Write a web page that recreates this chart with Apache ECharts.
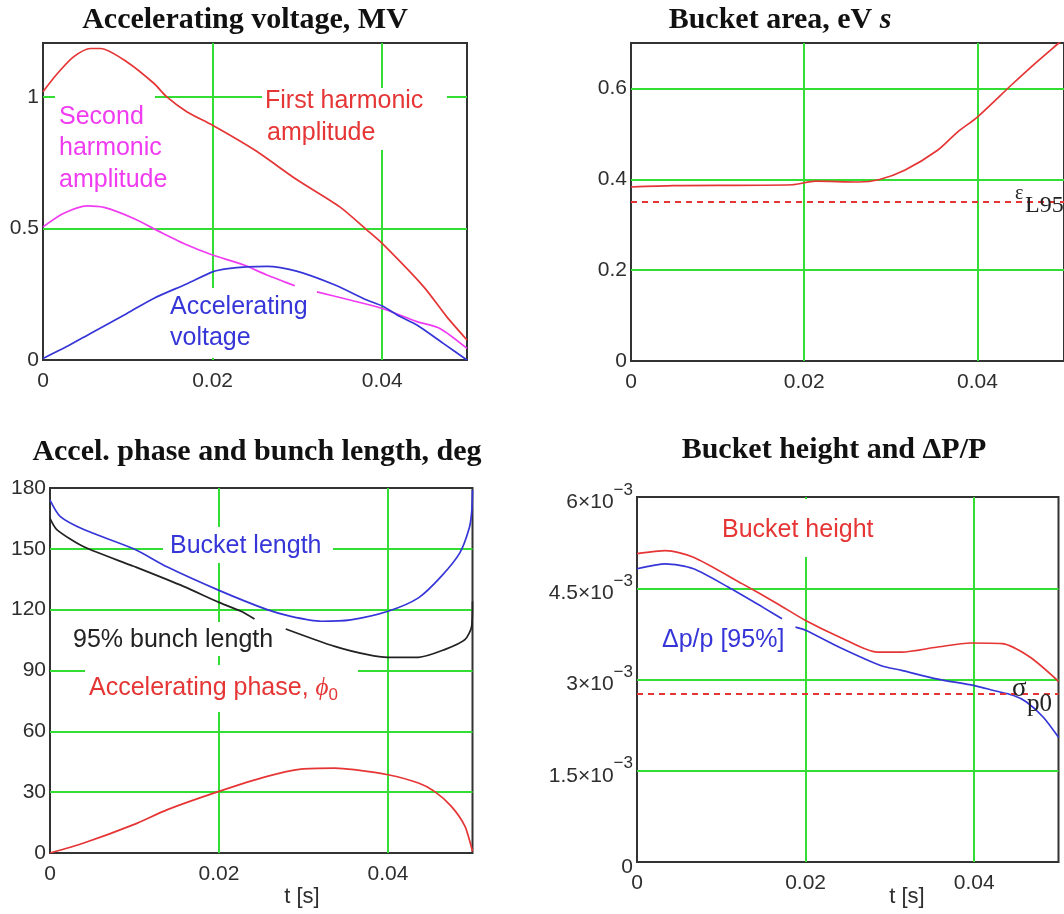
<!DOCTYPE html>
<html>
<head>
<meta charset="utf-8">
<script src="https://cdn.jsdelivr.net/npm/echarts/dist/echarts.min.js"></script>
<style>
html,body{margin:0;padding:0;background:#fff;}
#c{width:1064px;height:914px;}
</style>
</head>
<body>
<div id="c"></div>
<script>
// ---------------- DATA ----------------
// Panel 1: Accelerating voltage, MV
const T1_FIRST = [0, 0.0017, 0.0036, 0.0056, 0.0068, 0.0099, 0.0131, 0.0146, 0.017, 0.02, 0.025, 0.03, 0.035, 0.0382, 0.04, 0.0449, 0.0476, 0.05];
const V1_FIRST = [1.02, 1.089, 1.152, 1.184, 1.184, 1.133, 1.051, 1.0, 0.943, 0.892, 0.797, 0.684, 0.582, 0.494, 0.443, 0.278, 0.165, 0.076];
const T1_SECOND = [0, 0.0024, 0.0052, 0.0072, 0.0107, 0.0138, 0.017, 0.02, 0.0237, 0.0264, 0.0297, 0.031, 0.0323, 0.0362, 0.04, 0.0441, 0.0468, 0.05];
const V1_SECOND = [0.506, 0.557, 0.586, 0.58, 0.538, 0.487, 0.437, 0.399, 0.361, 0.323, 0.282, null, 0.259, 0.228, 0.196, 0.146, 0.12, 0.044];
const T1_ACC = [0, 0.0028, 0.0056, 0.0099, 0.0131, 0.017, 0.02, 0.0218, 0.0240, 0.0264, 0.0299, 0.0343, 0.0382, 0.04, 0.0421, 0.0441, 0.0472, 0.05];
const V1_ACC = [0.006, 0.051, 0.101, 0.177, 0.235, 0.29, 0.335, 0.347, 0.354, 0.356, 0.338, 0.287, 0.228, 0.205, 0.165, 0.133, 0.063, 0.0];

// Panel 2: Bucket area, eV s
const T2_AREA = [0, 0.0049, 0.0186, 0.0213, 0.0263, 0.0286, 0.0316, 0.0354, 0.0377, 0.04, 0.0439, 0.0469, 0.0494, 0.05];
const V2_AREA = [0.383, 0.386, 0.388, 0.396, 0.394, 0.399, 0.42, 0.464, 0.504, 0.537, 0.607, 0.659, 0.70, 0.71];
const EPS_L95 = 0.35;

// Panel 3: Accel. phase and bunch length, deg
const T3_BUCKET = [0, 0.0012, 0.004, 0.0099, 0.0139, 0.02, 0.0257, 0.0285, 0.0321, 0.0356, 0.04, 0.0436, 0.0463, 0.0485, 0.0496, 0.0499, 0.05];
const V3_BUCKET = [174, 166, 159.5, 150, 141, 129.5, 120, 116.7, 114.3, 115, 119.2, 125.8, 136.4, 148, 160, 168, 179];
const T3_BUNCH = [0, 0.0008, 0.004, 0.0099, 0.0158, 0.02, 0.0226, 0.0242, 0.026, 0.0279, 0.0337, 0.0376, 0.04, 0.0436, 0.0467, 0.0491, 0.0499, 0.05];
const V3_BUNCH = [165, 159.5, 151, 141.4, 131.5, 123.6, 119.2, 115.4, null, 110.5, 101.9, 97.8, 96.5, 96.5, 100.3, 105.2, 111.8, 124];
const T3_PHASE = [0, 0.004, 0.0099, 0.0139, 0.02, 0.0257, 0.0297, 0.0337, 0.036, 0.04, 0.0436, 0.0455, 0.0475, 0.0491, 0.05];
const V3_PHASE = [0, 4.9, 14, 21.4, 30.4, 37.8, 41.4, 41.9, 41.1, 38.6, 34.5, 30.4, 23, 13.2, 0.8];

// Panel 4: Bucket height and dP/P
const T4_HEIGHT = [0, 0.0034, 0.0067, 0.0124, 0.0166, 0.02, 0.024, 0.0285, 0.0314, 0.0355, 0.0396, 0.0433, 0.0466, 0.05];
const V4_HEIGHT = [5.07e-3, 5.12e-3, 5.01e-3, 4.58e-3, 4.25e-3, 3.97e-3, 3.70e-3, 3.45e-3, 3.45e-3, 3.53e-3, 3.60e-3, 3.59e-3, 3.37e-3, 2.97e-3];
const T4_DP = [0, 0.0034, 0.0067, 0.0108, 0.0149, 0.0172, 0.018, 0.0188, 0.02, 0.024, 0.0289, 0.0314, 0.0355, 0.04, 0.0423, 0.0446, 0.0462, 0.0482, 0.05];
const V4_DP = [4.82e-3, 4.90e-3, 4.82e-3, 4.52e-3, 4.19e-3, 4.0e-3, null, 3.86e-3, 3.81e-3, 3.53e-3, 3.23e-3, 3.15e-3, 3.01e-3, 2.90e-3, 2.82e-3, 2.74e-3, 2.63e-3, 2.38e-3, 2.05e-3];
const SIGMA_P0 = 2.76e-3;

// Axis ticks
const X_TICKS = [0, 0.02, 0.04];
const X_RANGE = [0, 0.05];
const Y1_TICKS = [0, 0.5, 1];
const Y2_TICKS = [0, 0.2, 0.4, 0.6];
const Y3_TICKS = [0, 30, 60, 90, 120, 150, 180];
const Y4_TICKS = [0, 1.5e-3, 3e-3, 4.5e-3, 6e-3];

// ---------------- STYLE ----------------
const SANS = '"Liberation Sans", Arial, sans-serif';
const SERIF = '"Liberation Serif", "Times New Roman", serif';
const GREEN = '#33dd33';
const RED = '#e53535';
const BLUE = '#3636d8';
const MAGENTA = '#f03cf0';
const BLACK = '#222222';
const LABEL = '#2e2e2e';

const zip = (t, v) => t.map((x, i) => [x, v[i]]);

const grids = [
  {left: 43, top: 43, width: 424, height: 317},
  {left: 631, top: 43, width: 437.5, height: 318},
  {left: 50, top: 488, width: 422.5, height: 365},
  {left: 637, top: 497, width: 421.5, height: 365}
].map(g => Object.assign(g, {show: true, borderColor: '#333', borderWidth: 2, backgroundColor: 'transparent', containLabel: false}));

function fmtTick(list, f) {
  return function (v) {
    for (const t of list) if (Math.abs(v - t) < 1e-9) return f ? f(t) : String(t);
    return '';
  };
}

const xAxes = [0, 1, 2, 3].map(i => ({
  type: 'value', gridIndex: i, min: X_RANGE[0], max: X_RANGE[1], interval: 0.02,
  axisLine: {show: false}, axisTick: {show: false},
  splitLine: {show: true, showMinLine: false, showMaxLine: false, lineStyle: {color: GREEN, width: 2}},
  axisLabel: {show: true, margin: 11, fontSize: 21, fontFamily: SANS, color: LABEL,
    showMaxLabel: false, formatter: fmtTick(X_TICKS)}
}));

function yAxis(i, max, interval, ticks, formatter, extra) {
  return Object.assign({
    type: 'value', gridIndex: i, min: 0, max: max, interval: interval,
    axisLine: {show: false}, axisTick: {show: false},
    splitLine: {show: true, showMinLine: false, showMaxLine: false, lineStyle: {color: GREEN, width: 2}},
    axisLabel: {show: true, margin: 4, fontSize: 21, fontFamily: SANS, color: LABEL,
      formatter: formatter || fmtTick(ticks)}
  }, extra || {});
}

const yAxes = [
  yAxis(0, 1.205, 0.5, Y1_TICKS),
  yAxis(1, 0.7, 0.2, Y2_TICKS),
  yAxis(2, 180, 30, Y3_TICKS),
  yAxis(3, 6e-3, 1.5e-3, Y4_TICKS, function (v) {
    for (const t of Y4_TICKS) {
      if (Math.abs(v - t) < 1e-12) {
        if (t === 0) return '{m|0}';
        const m = Math.round(t * 1e4) / 10;
        return '{m|' + m + '×10}{e|−3}';
      }
    }
    return '';
  })
];
yAxes[3].axisLabel.rich = {
  m: {fontSize: 21, fontFamily: SANS, color: LABEL, verticalAlign: 'bottom', padding: [10, 0, 0, 0]},
  e: {fontSize: 17, fontFamily: SANS, color: LABEL, verticalAlign: 'top'}
};

function line(i, data, color, extra) {
  return Object.assign({
    type: 'line', xAxisIndex: i, yAxisIndex: i, data: data, showSymbol: false,
    smooth: 0.25, connectNulls: false, clip: true, z: 3,
    lineStyle: {color: color, width: 1.7}, itemStyle: {color: color}, silent: true, animation: false
  }, extra || {});
}
const dashed = (i, v, color) => line(i, zip(X_RANGE, [v, v]), color,
  {smooth: false, lineStyle: {color: color, width: 2, type: [6, 5]}});

const series = [
  line(0, zip(T1_FIRST, V1_FIRST), RED),
  line(0, zip(T1_SECOND, V1_SECOND), MAGENTA),
  line(0, zip(T1_ACC, V1_ACC), BLUE),
  line(1, zip(T2_AREA, V2_AREA), RED),
  dashed(1, EPS_L95, RED),
  line(2, zip(T3_BUCKET, V3_BUCKET), BLUE),
  line(2, zip(T3_BUNCH, V3_BUNCH), BLACK),
  line(2, zip(T3_PHASE, V3_PHASE), RED),
  line(3, zip(T4_HEIGHT, V4_HEIGHT), RED),
  line(3, zip(T4_DP, V4_DP), BLUE),
  dashed(3, SIGMA_P0, RED)
];

// ---------------- ANNOTATIONS ----------------
function rect(x, y, w, h) {
  return {type: 'rect', z: 1, silent: true, shape: {x: x, y: y, width: w, height: h}, style: {fill: '#ffffff'}};
}
function txt(x, y, text, size, color, font, align) {
  return {type: 'text', z: 5, silent: true, x: x, y: y,
    style: {text: text, fill: color, font: size + 'px ' + (font || SANS), align: align || 'left', verticalAlign: 'middle'}};
}
function title(x, y, text) {
  return {type: 'text', z: 5, silent: true, x: x, y: y,
    style: {text: text, fill: '#111', font: 'bold 30px ' + SERIF, align: 'center', verticalAlign: 'middle'}};
}

const graphics = [
  // white text boxes breaking the grid lines
  rect(55, 90, 100, 105),
  rect(262, 88, 185, 62),
  rect(165, 288, 147, 70),
  rect(163, 527, 170, 36),
  rect(68, 622, 218, 34),
  rect(85, 665, 273, 47),
  rect(715, 499, 190, 58),

  title(245, 20, 'Accelerating voltage, MV'),
  {type: 'text', z: 5, silent: true, x: 780, y: 20,
    style: {text: '{n|Bucket area, eV }{i|s}', align: 'center', verticalAlign: 'middle',
      rich: {n: {font: 'bold 30px ' + SERIF, fill: '#111'}, i: {font: 'italic bold 30px ' + SERIF, fill: '#111'}}}},
  title(257, 452, 'Accel. phase and bunch length, deg'),
  title(834, 450, 'Bucket height and ΔP/P'),

  txt(265, 101, 'First harmonic', 25, RED),
  txt(267, 133, 'amplitude', 25, RED),
  txt(59, 117, 'Second', 25, MAGENTA),
  txt(59, 148, 'harmonic', 25, MAGENTA),
  txt(59, 180, 'amplitude', 25, MAGENTA),
  txt(170, 307, 'Accelerating', 25, BLUE),
  txt(170, 338, 'voltage', 25, BLUE),

  txt(1015, 194, 'ε', 20, '#222', SERIF),
  txt(1025, 206, 'L95', 24, '#222', SERIF),

  txt(170, 546, 'Bucket length', 25, BLUE),
  txt(73, 640, '95% bunch length', 25, BLACK),
  {type: 'text', z: 5, silent: true, x: 89, y: 688,
    style: {text: '{a|Accelerating phase, }{p|ϕ}{s|0}', align: 'left', verticalAlign: 'middle',
      rich: {a: {font: '25px ' + SANS, fill: RED, verticalAlign: 'middle'},
             p: {font: 'italic 25px ' + SERIF, fill: RED, verticalAlign: 'middle'},
             s: {font: '17px ' + SANS, fill: RED, padding: [14, 0, 0, 0], verticalAlign: 'middle'}}}},

  txt(722, 530, 'Bucket height', 25, RED),
  txt(662, 640, 'Δp/p [95%]', 25, BLUE),
  txt(1012, 689, 'σ', 27, '#222', SERIF),
  txt(1027, 704, 'p0', 25, '#222', SERIF),

  txt(302, 897, 't [s]', 22, LABEL, SANS, 'center'),
  txt(907, 897, 't [s]', 22, LABEL, SANS, 'center')
];

const chart = echarts.init(document.getElementById('c'), null, {renderer: 'canvas'});
chart.setOption({
  animation: false,
  backgroundColor: '#ffffff',
  grid: grids,
  xAxis: xAxes,
  yAxis: yAxes,
  series: series,
  graphic: {elements: graphics}
});
</script>
</body>
</html>
